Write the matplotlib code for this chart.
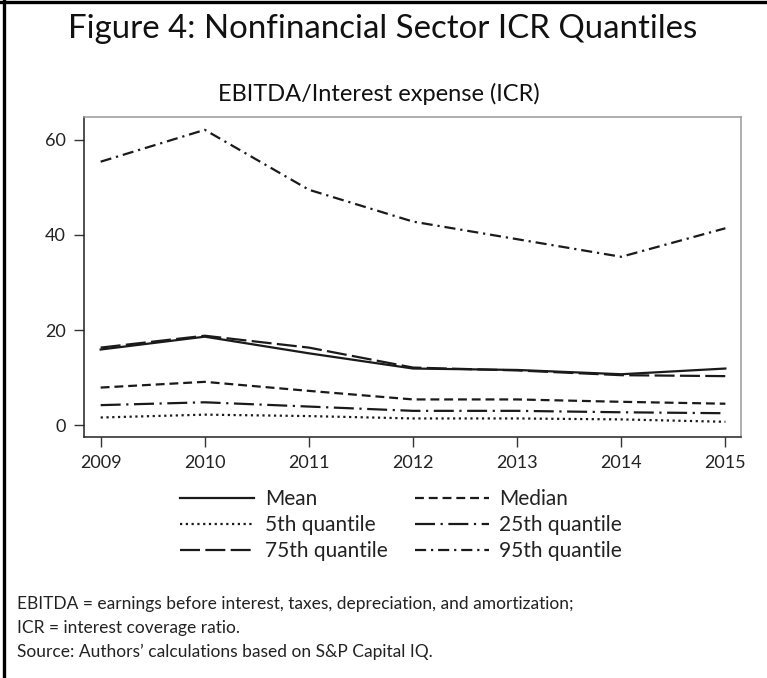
import matplotlib
matplotlib.use("Agg")
import matplotlib.pyplot as plt
from matplotlib.lines import Line2D

years = [2009, 2010, 2011, 2012, 2013, 2014, 2015]
mean_icr = [15.9, 18.6, 15.1, 11.9, 11.6, 10.7, 11.9]
median_icr = [7.9, 9.1, 7.2, 5.4, 5.4, 4.9, 4.5]
q05 = [1.6, 2.2, 1.9, 1.4, 1.4, 1.2, 0.7]
q25 = [4.2, 4.8, 3.9, 3.0, 3.0, 2.7, 2.5]
q75 = [16.3, 18.8, 16.3, 12.1, 11.5, 10.5, 10.3]
q95 = [55.4, 62.1, 49.5, 42.8, 39.1, 35.4, 41.4]
yticks = [0, 20, 40, 60]
ytick_labels = ["0", "20", "40", "60"]

title = "Figure 4: Nonfinancial Sector ICR Quantiles"
subtitle = "EBITDA/Interest expense (ICR)"
notes = ["EBITDA = earnings before interest, taxes, depreciation, and amortization;",
         "ICR = interest coverage ratio.",
         "Source: Authors\u2019 calculations based on S&P Capital IQ."]

FONT = "Lato"
W, H = 767, 678
fig = plt.figure(figsize=(W / 100, H / 100), dpi=100)
ax = fig.add_axes([84 / W, 1 - 437 / H, (741 - 84) / W, (437 - 117) / H])

lw = 1.6
series = [
    ("Mean", mean_icr, "-"),
    ("Median", median_icr, (0, (4.0, 2.2))),
    ("5th quantile", q05, (0, (1.0, 1.6))),
    ("25th quantile", q25, (0, (9.0, 2.5, 1.0, 2.5))),
    ("75th quantile", q75, (0, (9.0, 2.4))),
    ("95th quantile", q95, (0, (5.0, 2.2, 1.0, 2.2))),
]
handles = {}
for name, vals, ls in series:
    h, = ax.plot(years, vals, color="#1a1a1a", lw=lw, linestyle=ls, label=name)
    handles[name] = h

ax.set_xlim(2008.84, 2015.15)
ax.set_ylim(-2.5, 64.8)
ax.set_yticks(yticks)
ax.set_yticklabels(ytick_labels)
ax.set_xticks(years)
ax.set_xticklabels([str(y) for y in years])
for lab in ax.get_xticklabels() + ax.get_yticklabels():
    lab.set_fontfamily(FONT)
    lab.set_fontsize(13)
    lab.set_color("#222222")
ax.tick_params(axis="both", direction="out", length=7, width=1.0, color="#333333")
ax.tick_params(axis="x", pad=6)
ax.tick_params(axis="y", pad=6)
for s in ["left", "bottom"]:
    ax.spines[s].set_color("#222222")
    ax.spines[s].set_linewidth(1.1)
for s in ["top", "right"]:
    ax.spines[s].set_color("#999999")
    ax.spines[s].set_linewidth(1.1)

# legend filled row-wise: Mean, Median / 5th, 25th / 75th, 95th
order = ["Mean", "5th quantile", "75th quantile",
         "Median", "25th quantile", "95th quantile"]
leg = fig.legend([handles[n] for n in order], order, ncol=2, loc="center",
                 bbox_to_anchor=(401 / W, 1 - 525 / H), frameon=False,
                 prop={"family": FONT, "size": 15}, handlelength=3.55,
                 handletextpad=0.5, columnspacing=1.3, labelspacing=0.28)
for t in leg.get_texts():
    t.set_color("#222222")

fig.text(383 / W, 1 - 29 / H, title, ha="center", va="center",
         fontfamily=FONT, fontsize=23.8, color="#111111")
fig.text(379 / W, 1 - 94 / H, subtitle, ha="center", va="center",
         fontfamily=FONT, fontsize=17, color="#111111")
for i, n in enumerate(notes):
    fig.text(17 / W, 1 - (604 + 24 * i) / H, n, ha="left", va="center",
             fontfamily=FONT, fontsize=12.5, color="#222222")

# page border (left and top)
fig.add_artist(Line2D([4 / W, 4 / W], [0, 1], color="black", lw=2.4,
                      transform=fig.transFigure))
fig.add_artist(Line2D([0, 1], [1 - 2 / H, 1 - 2 / H], color="black", lw=2.4,
                      transform=fig.transFigure))

fig.savefig("out.png", dpi=100)
